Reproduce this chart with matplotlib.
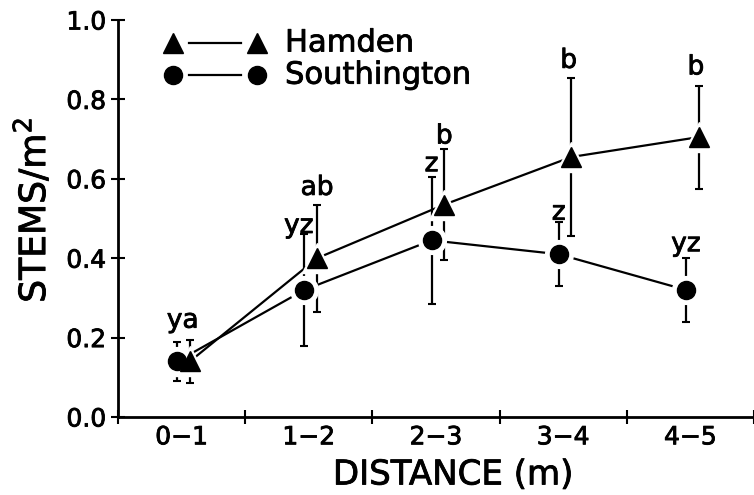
import numpy as np
import matplotlib
matplotlib.use('Agg')
import matplotlib.pyplot as plt
import matplotlib.patheffects as pe

plt.rcParams['font.family'] = ['DejaVu Sans']
plt.rcParams['mathtext.default'] = 'regular'

# data
distance = ['0\u22121', '1\u22122', '2\u22123', '3\u22124', '4\u22125']
hamden = [0.14, 0.40, 0.535, 0.655, 0.705]
hamden_err = [0.055, 0.135, 0.14, 0.20, 0.13]
southington = [0.14, 0.32, 0.445, 0.41, 0.32]
southington_err = [0.05, 0.14, 0.16, 0.08, 0.08]
hamden_letters = ['', 'ab', 'b', 'b', 'b']
southington_letters = ['ya', 'yz', 'z', 'z', 'yz']

x = np.arange(len(distance)) + 0.5
x_s = x - 0.035   # circles sit a bit left
x_h = x + 0.065   # triangles a bit right

heavy = [pe.withStroke(linewidth=0.6, foreground='k')]

fig = plt.figure(figsize=(7.54, 4.95), dpi=100)
ax = fig.add_axes([0.1565, 0.1576, 0.8435, 0.802])

for xs, ys, es, mk, ms in [(x_s, southington, southington_err, 'o', 13),
                           (x_h, hamden, hamden_err, '^', 14)]:
    ax.errorbar(xs, ys, yerr=es, fmt='none', ecolor='k', elinewidth=1.6,
                capsize=2.7, capthick=1.5, zorder=1)
    ax.plot(xs, ys, '-', color='k', lw=1.6, zorder=2)
    # white halo so lines stop short of the markers
    ax.plot(xs, ys, ls='none', marker=mk, ms=ms + 7, color='white', zorder=3)
for xs, ys, mk, ms in [(x_s, southington, 'o', 13), (x_h, hamden, '^', 14)]:
    ax.plot(xs, ys, ls='none', marker=mk, ms=ms, color='k', zorder=4)

# significance letters above the error bars
s_off = [(4, 10), (-4, 1), (0, 4), (0, 2), (0, 5)]
h_off = [(0, 0), (0, 7), (0, 4), (-2, 7), (-2, 8)]
for i in range(len(distance)):
    if southington_letters[i]:
        ax.annotate(southington_letters[i],
                    (x_s[i], southington[i] + southington_err[i]),
                    xytext=s_off[i], textcoords='offset points',
                    ha='center', va='baseline', fontsize=19, zorder=5,
                    path_effects=heavy)
    if hamden_letters[i]:
        ax.annotate(hamden_letters[i],
                    (x_h[i], hamden[i] + hamden_err[i]),
                    xytext=h_off[i], textcoords='offset points',
                    ha='center', va='baseline', fontsize=19, zorder=5,
                    path_effects=heavy)

# legend drawn by hand: marker - gap - line - gap - marker
for yl, mk, ms, name in [(0.942, '^', 14, 'Hamden'), (0.861, 'o', 13, 'Southington')]:
    ax.plot([0.0865, 0.2186], [yl, yl], ls='none', marker=mk, ms=ms, color='k',
            transform=ax.transAxes, clip_on=False)
    ax.plot([0.112, 0.193], [yl, yl], '-', color='k', lw=1.6,
            transform=ax.transAxes, clip_on=False)
    ax.text(0.2626, yl, name, transform=ax.transAxes, fontsize=22,
            va='center', ha='left', path_effects=heavy)

ax.set_xlim(0, 5)
ax.set_ylim(0, 1.0)
ax.set_xticks(np.arange(0, 6))
ax.set_xticklabels([])
ax.set_xticks(x, minor=True)
ax.set_xticklabels(distance, minor=True, fontsize=18)
ax.set_yticks(np.arange(0, 1.01, 0.2))
ax.set_yticklabels(['%.1f' % v for v in np.arange(0, 1.01, 0.2)], fontsize=18)
ax.tick_params(which='major', direction='inout', length=10, width=1.5, pad=3.5)
ax.tick_params(axis='x', which='minor', length=0, pad=6)
for lab in ax.get_xticklabels(minor=True) + ax.get_yticklabels():
    lab.set_path_effects(heavy)

for s in ['top', 'right']:
    ax.spines[s].set_visible(False)
for s in ['left', 'bottom']:
    ax.spines[s].set_linewidth(2)

ax.set_xlabel('DISTANCE (m)', fontsize=24.5, va='center', path_effects=heavy)
ax.xaxis.set_label_coords(0.527, -0.146)
ax.set_ylabel('STEMS/m$^2$', fontsize=26, va='center', path_effects=heavy)
ax.yaxis.set_label_coords(-0.134, 0.521)

fig.savefig('out.png', dpi=100)
